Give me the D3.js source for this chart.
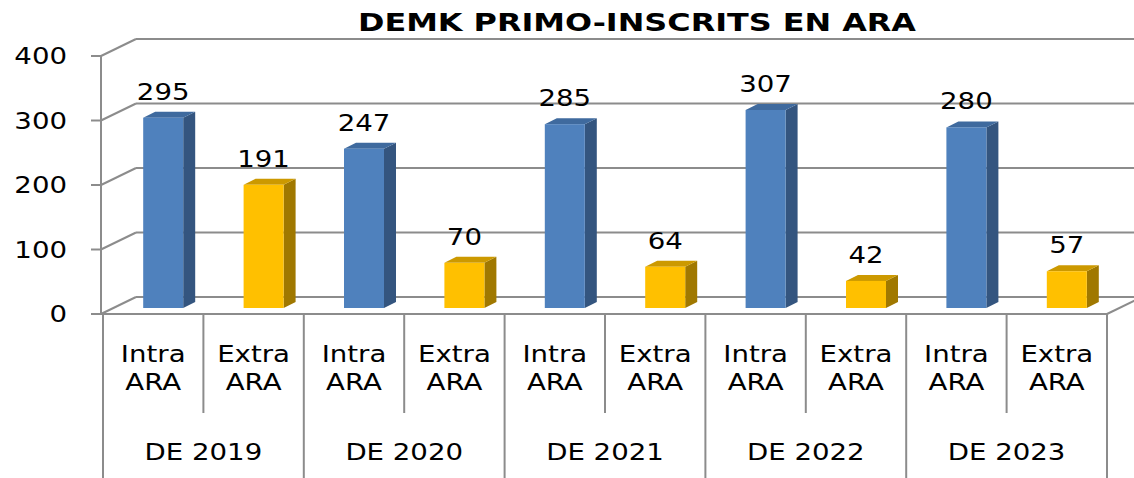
<!DOCTYPE html>
<html><head><meta charset="utf-8">
<script src="https://cdn.jsdelivr.net/npm/d3@7"></script>
<style>html,body{margin:0;padding:0;background:#fff;}svg{display:block;}</style>
</head><body>
<svg id="c" width="1134" height="478"></svg>
<script>
const title = "DEMK PRIMO-INSCRITS EN ARA";
const years = ["DE 2019","DE 2020","DE 2021","DE 2022","DE 2023"];
const subCats = ["Intra ARA","Extra ARA"];
const intraValues = [295,247,285,307,280];
const extraValues = [191,70,64,42,57];
const yTicks = [0,100,200,300,400];

const rows = [];
years.forEach((y,i)=>{
  rows.push({key:y+"|Intra", year:y, sub:subCats[0], value:intraValues[i], type:"intra"});
  rows.push({key:y+"|Extra", year:y, sub:subCats[1], value:extraValues[i], type:"extra"});
});

const svg = d3.select("#c");
const W=1134,H=478;
const x = d3.scaleBand().domain(rows.map(d=>d.key)).range([103,1107]).paddingInner(0).paddingOuter(0);
const y = d3.scaleLinear().domain([0,400]).range([314,56]);
const DX=35, DY=-17;     // wall depth offset
const BX=10, BY=-6;      // bar front-plane offset
const BDX=12, BDY=-6;    // bar depth
const BW=40;
const gridC="#8c8c8c";
const SX=1.2;
const font="'DejaVu Sans', Verdana, sans-serif";

// back wall gridlines + left wall diagonals
const g = svg.append("g").attr("stroke",gridC).attr("stroke-width",2).attr("fill","none");
yTicks.forEach(t=>{
  g.append("line").attr("x1",101+DX).attr("y1",y(t)+DY).attr("x2",W+20).attr("y2",y(t)+DY);
  g.append("line").attr("x1",101).attr("y1",y(t)).attr("x2",101+DX).attr("y2",y(t)+DY);
  g.append("line").attr("x1",91).attr("y1",y(t)).attr("x2",101).attr("y2",y(t));
});
// front vertical axis
g.append("line").attr("x1",101).attr("y1",y(400)).attr("x2",101).attr("y2",y(0));
// floor front edge and right diagonal
g.append("line").attr("x1",101).attr("y1",y(0)).attr("x2",1107).attr("y2",y(0));
g.append("line").attr("x1",1107).attr("y1",y(0)).attr("x2",1107+DX).attr("y2",y(0)+DY);

// category separators
const keys = x.domain();
for(let i=0;i<=keys.length;i++){
  const xx = i<keys.length ? x(keys[i]) : x(keys[keys.length-1])+x.bandwidth();
  const outer = i%2===0;
  g.append("line").attr("x1",xx).attr("y1",y(0)).attr("x2",xx).attr("y2",outer?H+2:413);
}

// y tick labels
const fs = 23;
function stext(sel, tx, ty, txt, opts={}){
  return sel.append("text")
    .attr("transform",`translate(${tx},${ty}) scale(${opts.sx||SX},1)`)
    .attr("text-anchor",opts.anchor||"middle")
    .attr("font-family",font).attr("font-size",opts.size||fs)
    .attr("font-weight",opts.weight||"normal")
    .attr("fill","#000").text(txt);
}
const tl = svg.append("g");
yTicks.forEach(t=> stext(tl, 67, y(t)+8, String(t), {anchor:"end"}));

// bars
const colors = {
  intra:{front:"#4F81BD", side:"#34557F", top:"#3F6A9E"},
  extra:{front:"#FFC000", side:"#A07800", top:"#CC9900"}
};
const bars = svg.append("g");
rows.forEach(d=>{
  const x0 = x(d.key) + (x.bandwidth()-BW)/2 + BX;
  const x1 = x0+BW;
  const yt = y(d.value)+BY, yb = y(0)+BY;
  const c = colors[d.type];
  bars.append("polygon").attr("points",[[x1,yt],[x1+BDX,yt+BDY],[x1+BDX,yb+BDY],[x1,yb]].join(" "))
    .attr("fill",c.side);
  bars.append("polygon").attr("points",[[x0,yt],[x1,yt],[x1+BDX,yt+BDY],[x0+BDX,yt+BDY]].join(" "))
    .attr("fill",c.top);
  bars.append("rect").attr("x",x0).attr("y",yt).attr("width",BW).attr("height",yb-yt).attr("fill",c.front);
  stext(bars, (x0+x1)/2, yt-18, String(d.value));
});

// category labels
const cl = svg.append("g");
rows.forEach(d=>{
  const cx = x(d.key)+x.bandwidth()/2;
  const parts = d.sub.split(" ");
  stext(cl, cx, 362, parts[0]);
  stext(cl, cx, 390, parts[1]);
});
years.forEach((yr,i)=>{
  const cx = x(rows[i*2].key)+x.bandwidth();
  stext(cl, cx, 460, yr);
});

// title
svg.append("text").attr("x",637).attr("y",31).attr("text-anchor","middle")
  .attr("font-family",font).attr("font-size",25).attr("font-weight","bold")
  .attr("textLength",558).attr("lengthAdjust","spacingAndGlyphs").text(title);
</script>
</body></html>
